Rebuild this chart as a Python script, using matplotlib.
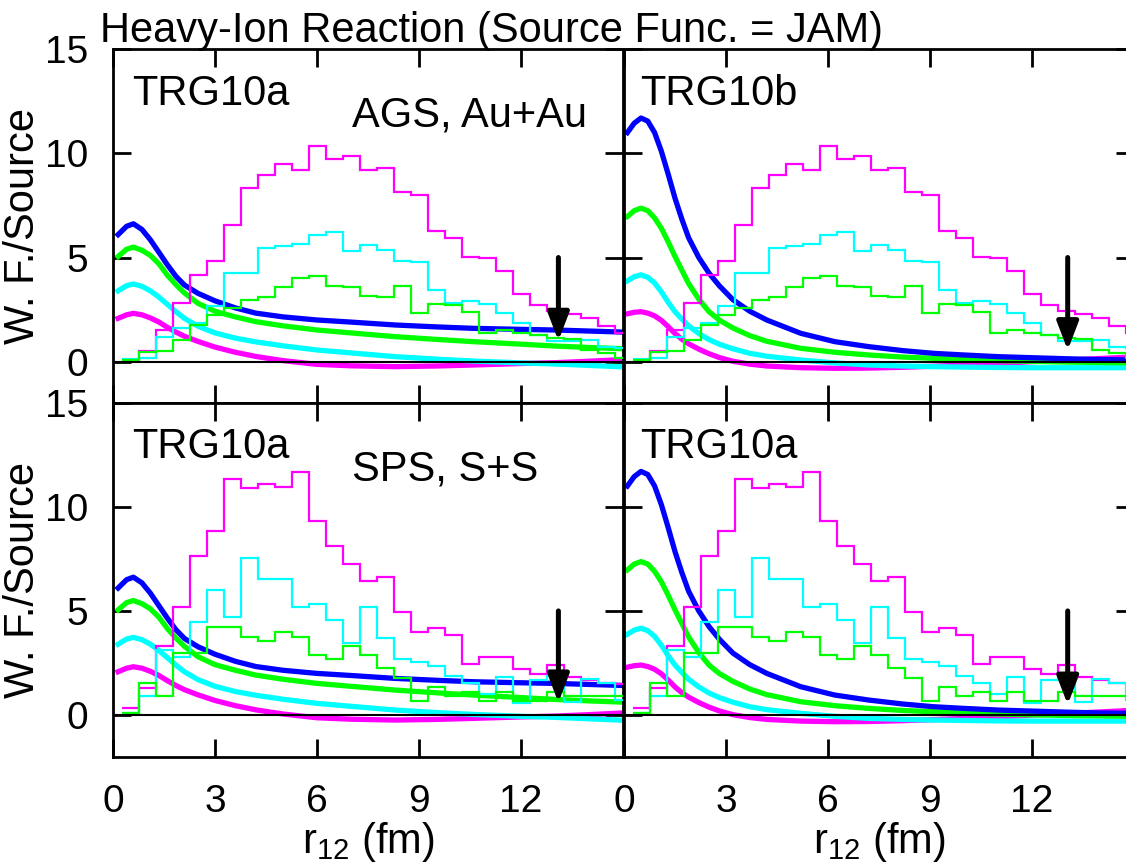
import numpy as np
import matplotlib
matplotlib.use("Agg")
import matplotlib.pyplot as plt

plt.rcParams['font.family'] = ['Liberation Sans', 'DejaVu Sans']
plt.rcParams['mathtext.default'] = 'regular'

# histogram bins (centres every 0.5 fm)
bin_centers = np.arange(0.5, 15.01, 0.5)
bin_edges = np.append(bin_centers - 0.25, bin_centers[-1] + 0.25)

# AGS Au+Au histograms (top panels)
ags_magenta = [0.08, 0.5, 1.52, 2.80, 4.17, 4.81, 6.57, 8.33, 8.94, 9.49,
               9.21, 10.37, 9.73, 9.86, 9.18, 9.29, 8.17, 8.01, 6.28, 5.93,
               5.02, 4.97, 4.36, 3.27, 2.74, 2.45, 2.27, 2.08, 1.72, 1.38]
ags_cyan = [0.11, 0.16, 1.2, 1.6, 1.84, 2.68, 4.25, 4.25, 5.45, 5.53,
            5.64, 6.09, 6.25, 5.29, 5.61, 5.37, 4.81, 4.78, 3.45, 2.80,
            2.92, 2.75, 2.32, 1.84, 1.3, 1.0, 1.0, 1.04, 0.72, 0.64]
ags_green = [0.08, 0.48, 0.53, 1.04, 1.76, 2.24, 2.56, 2.96, 3.12, 3.57,
             4.0, 4.09, 3.61, 3.57, 3.16, 3.12, 3.64, 2.32, 2.77, 2.72,
             2.40, 1.36, 1.52, 1.36, 1.28, 1.12, 1.07, 0.56, 0.40, 0.16]

# SPS S+S histograms (bottom panels)
sps_magenta = [0.32, 1.31, 3.32, 5.21, 7.64, 8.86, 11.35, 10.9, 11.09, 10.95,
               11.67, 9.34, 8.13, 7.24, 6.44, 6.65, 4.97, 3.97, 4.2, 3.85,
               2.44, 2.8, 2.8, 2.2, 1.96, 2.4, 1.81, 1.68, 1.55, 1.5]
sps_cyan = [0.11, 0.91, 3.12, 2.80, 4.46, 6.01, 4.73, 7.56, 6.52, 6.52,
            5.18, 5.32, 4.57, 3.45, 5.21, 3.69, 2.68, 2.56, 2.36, 1.88,
            1.55, 1.01, 1.82, 0.58, 1.68, 1.88, 0.64, 1.73, 1.54, 0.72]
sps_green = [0.11, 1.55, 0.91, 2.96, 2.96, 4.21, 4.21, 3.77, 3.57, 4.01,
             3.77, 2.88, 2.68, 3.32, 2.88, 2.24, 1.76, 0.69, 1.33, 0.91,
             1.12, 0.69, 1.12, 0.69, 0.69, 1.12, 0.91, 0.91, 0.91, 0.91]

# TRG10a weight functions (left panels)
r_a = [0.15, 0.4, 0.6, 0.85, 1.1, 1.35, 1.6, 1.85, 2.1, 2.5, 3.0, 3.6,
       4.2, 5.0, 6.0, 7.0, 8.3, 9.5, 10.6, 12.0, 13.0, 14.0, 15.0]
a_blue = [6.1, 6.5, 6.62, 6.35, 5.85, 5.25, 4.65, 4.1, 3.68, 3.28, 2.92, 2.58,
          2.33, 2.15, 2.0, 1.9, 1.76, 1.67, 1.6, 1.55, 1.52, 1.47, 1.42]
a_green = [5.05, 5.4, 5.5, 5.35, 5.1, 4.7, 4.15, 3.7, 3.3, 2.8, 2.42, 2.15,
           1.92, 1.72, 1.52, 1.38, 1.2, 1.07, 0.96, 0.84, 0.75, 0.68, 0.62]
a_cyan = [3.4, 3.65, 3.73, 3.62, 3.4, 3.1, 2.75, 2.4, 2.08, 1.7, 1.38, 1.13,
          0.95, 0.76, 0.56, 0.42, 0.24, 0.12, 0.03, -0.06, -0.11, -0.18, -0.25]
a_magenta = [2.08, 2.25, 2.32, 2.25, 2.1, 1.9, 1.65, 1.42, 1.22, 0.97, 0.7, 0.45,
             0.25, 0.05, -0.13, -0.2, -0.24, -0.21, -0.16, -0.09, -0.05, 0.02, 0.1]

# TRG10b weight functions (right panels)
r_b = [0.1, 0.3, 0.5, 0.7, 0.9, 1.1, 1.3, 1.5, 1.7, 1.9, 2.2, 2.5, 2.8, 3.2,
       3.7, 4.2, 5.2, 6.2, 7.2, 8.2, 9.1, 10.0, 11.0, 12.0, 13.0, 14.0, 15.0]
b_blue = [11.0, 11.45, 11.7, 11.55, 11.0, 10.1, 9.0, 7.85, 6.85, 5.95, 5.0, 4.25,
          3.65, 2.98, 2.42, 2.0, 1.36, 0.96, 0.72, 0.53, 0.40, 0.32, 0.24, 0.19,
          0.14, 0.1, 0.08]
b_green = [6.97, 7.25, 7.37, 7.25, 6.9, 6.4, 5.75, 5.05, 4.4, 3.75, 3.0, 2.4,
           2.0, 1.62, 1.25, 0.98, 0.64, 0.45, 0.32, 0.22, 0.16, 0.1, 0.05, 0.01,
           -0.02, -0.04, -0.06]
b_cyan = [3.88, 4.08, 4.17, 4.05, 3.78, 3.35, 2.85, 2.4, 2.05, 1.72, 1.35, 1.06,
          0.84, 0.62, 0.4, 0.26, 0.08, -0.06, -0.16, -0.21, -0.24, -0.26, -0.28,
          -0.29, -0.29, -0.29, -0.29]
b_magenta = [2.3, 2.37, 2.4, 2.33, 2.2, 1.98, 1.68, 1.35, 1.08, 0.86, 0.6, 0.38,
             0.2, 0.02, -0.12, -0.21, -0.29, -0.32, -0.31, -0.27, -0.22, -0.16,
             -0.09, 0.0, 0.07, 0.15, 0.23]

# arrows (r position, tip) per panel: TL, TR, BL, BR
arrow_r = [13.1, 13.05, 13.1, 13.05]
arrow_tip = [1.0, 0.55, 0.6, 0.5]
arrow_base = 5.0

tags = ['TRG10a', 'TRG10b', 'TRG10a', 'TRG10a']
tag_x = [0.55, 0.47, 0.55, 0.47]
systems = ['AGS, Au+Au', None, 'SPS, S+S', None]
title = 'Heavy-Ion Reaction (Source Func. = JAM)'

xticks = [0, 3, 6, 9, 12]
yticks = [0, 5, 10, 15]

curve_colors = ['#ff00ff', '#00ffff', '#00ff00', '#0000ff']
hist_colors = ['#ff00ff', '#00ffff', '#00ff00']

fig = plt.figure(figsize=(11.26, 8.64), dpi=100)

left_x, right_x, width = 113 / 1126, 624 / 1126, 510 / 1126
top_y, bot_y, height = 1 - 403.3 / 864, 1 - 756.7 / 864, 354 / 864
boxes = [(left_x, top_y), (right_x, top_y), (left_x, bot_y), (right_x, bot_y)]

curve_sets = [(r_a, [a_magenta, a_cyan, a_green, a_blue]),
              (r_b, [b_magenta, b_cyan, b_green, b_blue]),
              (r_a, [a_magenta, a_cyan, a_green, a_blue]),
              (r_b, [b_magenta, b_cyan, b_green, b_blue])]
hist_sets = [[ags_magenta, ags_cyan, ags_green], [ags_magenta, ags_cyan, ags_green],
             [sps_magenta, sps_cyan, sps_green], [sps_magenta, sps_cyan, sps_green]]

for i, (x0, y0) in enumerate(boxes):
    ax = fig.add_axes([x0, y0, width, height])
    r, curves = curve_sets[i]
    for vals, col in zip(curves, curve_colors):
        ax.plot(r, vals, color=col, lw=3.8, zorder=2)
    for vals, col in zip(hist_sets[i], hist_colors):
        ax.stairs(vals, bin_edges, baseline=None, color=col, lw=1.6, zorder=3)
    ax.axhline(0, color='k', lw=1.5, zorder=4)
    ax.annotate('', xy=(arrow_r[i], arrow_tip[i]), xytext=(arrow_r[i], arrow_base),
                arrowprops=dict(arrowstyle='-|>,head_length=1.7,head_width=0.65',
                                lw=3.6, color='k', shrinkA=0, shrinkB=0,
                                mutation_scale=10), zorder=5)

    ax.set_xlim(0, 15)
    ax.set_ylim(-2, 15)
    ax.set_xticks(xticks)
    ax.set_yticks(yticks)
    for s in ax.spines.values():
        s.set_linewidth(2)
    ax.tick_params(direction='in', length=13, width=2, top=True, right=True,
                   labelsize=28)
    ax.tick_params(axis='y', pad=18)
    ax.tick_params(axis='x', pad=20)

    ax.text(tag_x[i], 12.34, tags[i], fontsize=30, ha='left', va='baseline')
    if systems[i]:
        ax.text(7.03, 11.28, systems[i], fontsize=30, ha='left', va='baseline')

    if i % 2 == 0:
        ax.set_ylabel('W. F./Source', fontsize=30)
        ax.yaxis.set_label_coords(-0.138, 0.5)
    else:
        ax.tick_params(labelleft=False)
    if i < 2:
        ax.tick_params(labelbottom=False)
    else:
        ax.set_xlabel('r$_{12}$ (fm)', fontsize=30, labelpad=0)

fig.text(100 / 1126, 1 - 42 / 864, title, fontsize=30, ha='left', va='baseline')

fig.savefig('out.png', dpi=100)
